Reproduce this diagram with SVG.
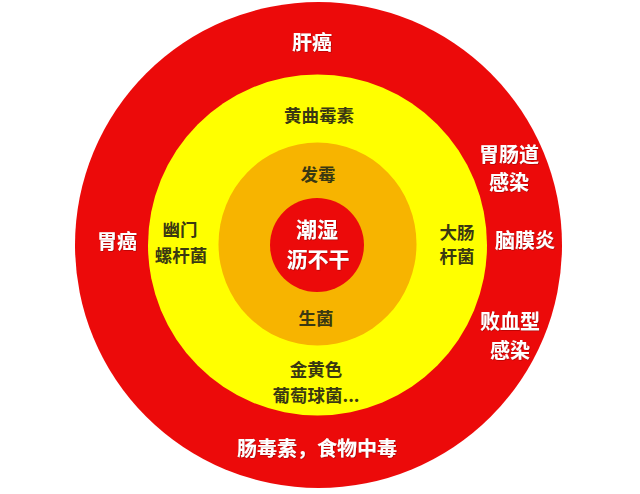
<svg xmlns="http://www.w3.org/2000/svg" width="640" height="494" viewBox="0 0 640 494">
<style>
text{font-family:"Noto Sans CJK SC","Noto Sans",sans-serif;font-weight:700;text-anchor:middle}
.w{fill:#ffffff;font-size:20px}
.d{fill:#3a3812;font-size:17.5px}
.c{fill:#ffffff;font-size:21px}
</style>
<defs>
<filter id="sh" x="-10%" y="-10%" width="120%" height="120%">
<feDropShadow dx="0.6" dy="0.6" stdDeviation="0.5" flood-color="#8a0000" flood-opacity="0.8"/>
</filter>
</defs>
<rect width="640" height="494" fill="#ffffff"/>
<g id="ring-outer"><ellipse cx="318.5" cy="245" rx="243.5" ry="243" fill="#ec0a0a"/></g>
<g id="ring-yellow"><ellipse cx="317.5" cy="245" rx="169.5" ry="170.5" fill="#ffff00"/></g>
<g id="ring-orange"><ellipse cx="317.5" cy="244" rx="99" ry="101.5" fill="#f7b400"/></g>
<g id="core"><ellipse cx="317" cy="245" rx="47" ry="47" fill="#ec0a0a"/></g>
<g id="connectors"></g>
<g id="labels-core" filter="url(#sh)">
<text class="c" x="317" y="237">潮湿</text>
<text class="c" x="318" y="267">沥不干</text>
</g>
<g id="labels-orange">
<text class="d" x="318" y="181" font-size="18">发霉</text>
<text class="d" x="316" y="325" font-size="18">生菌</text>
</g>
<g id="labels-yellow">
<text class="d" x="319" y="122">黄曲霉素</text>
<text class="d" x="180" y="236">幽门</text>
<text class="d" x="181" y="262">螺杆菌</text>
<text class="d" x="457" y="239">大肠</text>
<text class="d" x="457" y="263">杆菌</text>
<text class="d" x="316" y="376">金黄色</text>
<text class="d" x="316" y="402">葡萄球菌...</text>
</g>
<g id="labels-outer" filter="url(#sh)">
<text class="w" x="312" y="50">肝癌</text>
<text class="w" x="117" y="249">胃癌</text>
<text class="w" x="509" y="162">胃肠道</text>
<text class="w" x="509" y="190">感染</text>
<text class="w" x="525" y="248">脑膜炎</text>
<text class="w" x="510" y="329">败血型</text>
<text class="w" x="510" y="358">感染</text>
<text class="w" x="317" y="456" font-size="21">肠毒素，食物中毒</text>
</g>
</svg>
